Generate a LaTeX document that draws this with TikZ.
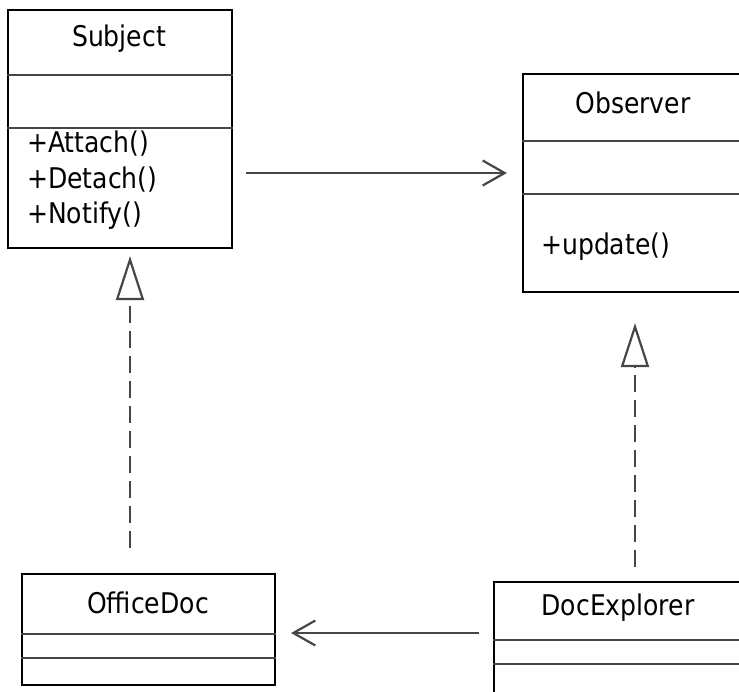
\documentclass[tikz,border=0pt]{standalone}
\usepackage{fontspec}
\setmainfont{DejaVu Sans}[FakeStretch=0.88]
\usetikzlibrary{arrows.meta}
\definecolor{linegray}{RGB}{70,70,70}
\tikzset{
  cls/.style={draw=black, line width=2.2pt, inner sep=0pt, rectangle},
  sep/.style={draw=linegray, line width=2.6pt},
  lbl/.style={inner sep=0pt, text=black},
  assoc/.style={draw=linegray, line width=2.6pt, -{Straight Barb[length=22pt, width=25pt, line width=2.2pt]}},
  real/.style={draw=linegray, line width=2.6pt, dash pattern=on 17pt off 8pt, -{Triangle[open, length=44pt, width=28pt, line width=2.2pt, fill=white]}}
}
\begin{document}
\begin{tikzpicture}[x=1pt, y=-1pt, font=\fontsize{28.5}{34}\selectfont]
\useasboundingbox (0,0) rectangle (739,691);
\clip (0,0) rectangle (739,691);
% classes
\node[cls, minimum width=224pt, minimum height=238pt] (subj) at (120,129) {};
\node[cls, minimum width=237pt, minimum height=218pt] (obs) at (641.5,183) {};
\node[cls, minimum width=253pt, minimum height=111pt] (offdoc) at (148.5,629.5) {};
\node[cls, minimum width=266pt, minimum height=128pt] (docexp) at (627,646) {};
% separators
\draw[sep] (subj.west |- 0,75) -- (subj.east |- 0,75);
\draw[sep] (subj.west |- 0,128) -- (subj.east |- 0,128);
\draw[sep] (obs.west |- 0,141) -- (obs.east |- 0,141);
\draw[sep] (obs.west |- 0,194) -- (obs.east |- 0,194);
\draw[sep] (offdoc.west |- 0,634) -- (offdoc.east |- 0,634);
\draw[sep] (offdoc.west |- 0,658) -- (offdoc.east |- 0,658);
\draw[sep] (docexp.west |- 0,640) -- (docexp.east |- 0,640);
\draw[sep] (docexp.west |- 0,664) -- (docexp.east |- 0,664);
% labels
\node[lbl] (subjT) at (119,39) {Subject};
\node[lbl, anchor=west] (m1) at (27,144) {+Attach()};
\node[lbl, anchor=west] (m2) at (27,180) {+Detach()};
\node[lbl, anchor=west] (m3) at (27,216) {+Notify()};
\node[lbl] (obsT) at (633,103) {Observer};
\node[lbl, anchor=west] (m4) at (541,247) {+update()};
\node[lbl] (offT) at (148,603) {OfficeDoc};
\node[lbl] (expT) at (618,608) {DocExplorer};
% connectors
\draw[assoc, shorten <=13pt, shorten >=15pt] (subj.east |- 0,173) -- (obs.west |- 0,173);
\draw[assoc, shorten <=14pt, shorten >=15pt] (docexp.west |- 0,633) -- (offdoc.east |- 0,633);
\draw[real, shorten <=25pt, shorten >=7pt] (130,0 |- offdoc.north) -- (130,0 |- subj.south);
\draw[real, shorten <=14pt, shorten >=30pt] (635,0 |- docexp.north) -- (635,0 |- obs.south);
\end{tikzpicture}
\end{document}
